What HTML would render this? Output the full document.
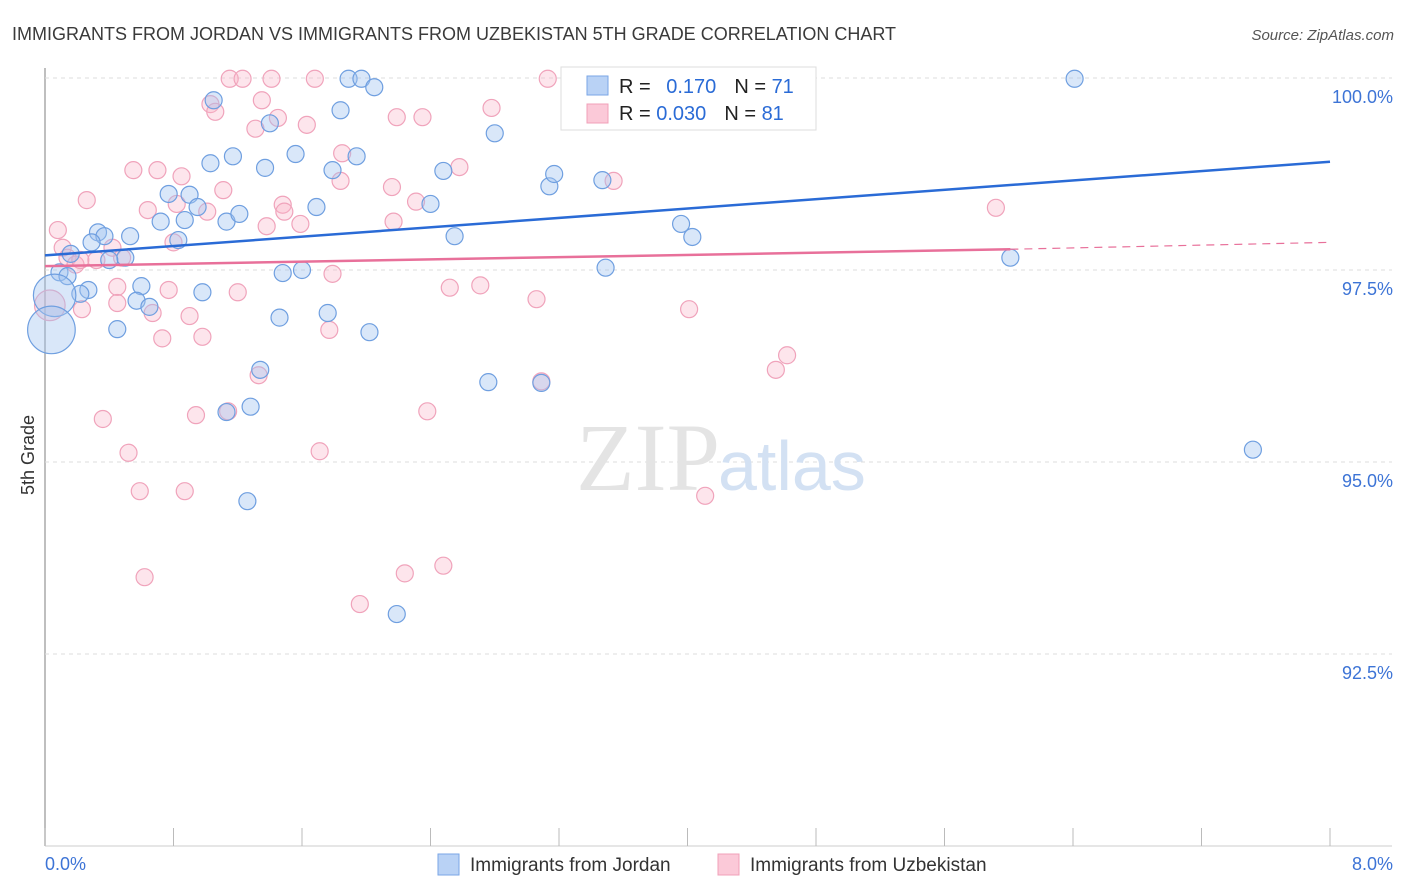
<!DOCTYPE html>
<html><head><meta charset="utf-8">
<style>
body{margin:0;background:#fff;font-family:"Liberation Sans",sans-serif;}
svg{display:block}
</style></head>
<body>
<svg id="chart" width="1406" height="892">
<text x="12" y="40" font-size="18" fill="#3a3a3a">IMMIGRANTS FROM JORDAN VS IMMIGRANTS FROM UZBEKISTAN 5TH GRADE CORRELATION CHART</text>
<text x="1394" y="40" font-size="15" fill="#555" font-style="italic" text-anchor="end">Source: ZipAtlas.com</text>
<text x="34" y="455" font-size="18" fill="#333" transform="rotate(-90 34 455)" text-anchor="middle">5th Grade</text>
<g id="grid"></g>
<text x="720" y="490" font-size="96" fill="#e4e4e4" text-anchor="end" font-family="Liberation Serif, serif">ZIP</text>
<text x="718" y="490" font-size="70" fill="#d3e1f3">atlas</text>
<g id="points"></g>
<g id="lines"></g>
<g>
<rect x="561" y="67" width="255" height="63" fill="#fff" stroke="#ddd"/>
<rect x="587" y="76" width="21" height="19" fill="#b9d2f5" stroke="#7aa6e6"/>
<rect x="587" y="104" width="21" height="19" fill="#fbc9d8" stroke="#f0a0b8"/>
<text x="619" y="93" font-size="20" fill="#222">R = <tspan fill="#2a6bd6" dx="10">0.170</tspan><tspan fill="#222" dx="18">N = </tspan><tspan fill="#2a6bd6">71</tspan></text>
<text x="619" y="120" font-size="20" fill="#222">R = <tspan fill="#2a6bd6">0.030</tspan><tspan fill="#222" dx="18">N = </tspan><tspan fill="#2a6bd6">81</tspan></text>
</g>
<g>
<rect x="438" y="854" width="21" height="21" fill="#b9d2f5" stroke="#7aa6e6"/>
<text x="470" y="871" font-size="19" fill="#333">Immigrants from Jordan</text>
<rect x="718" y="854" width="21" height="21" fill="#fbc9d8" stroke="#f0a0b8"/>
<text x="750" y="871" font-size="19" fill="#333">Immigrants from Uzbekistan</text>
</g>
</svg>
<script>
const yTicks=[100,97.5,95,92.5];
const yTickLabels=["100.0%","97.5%","95.0%","92.5%"];
const xTickLabels=["0.0%","8.0%"];
const jordanX=[0.16,0.09,0.14,0.27,0.22,0.06,0.04,0.45,0.33,0.37,0.29,0.53,0.50,0.40,0.60,0.57,0.65,0.72,0.77,0.87,0.90,0.83,0.95,1.03,1.05,1.13,1.17,1.21,0.98,1.37,1.40,1.48,1.46,1.56,1.60,1.69,1.79,1.84,1.89,1.97,2.05,1.94,1.76,2.02,1.34,1.28,1.13,1.26,2.19,2.40,2.48,2.55,2.80,2.76,3.09,3.14,3.17,3.47,3.49,3.72,3.96,4.03,4.32,6.01,6.41,7.52,3.39];
const jordanY=[97.71,97.47,97.42,97.24,97.19,97.17,96.72,96.73,97.99,97.94,97.86,97.94,97.66,97.63,97.29,97.10,97.02,98.13,98.49,98.15,98.48,97.89,98.32,98.89,99.71,98.13,98.98,98.23,97.21,98.83,99.41,97.46,96.88,99.01,97.50,98.32,98.80,99.58,99.99,99.99,99.88,98.98,96.94,96.69,96.20,95.72,95.65,94.49,93.02,98.36,98.79,97.94,99.28,96.04,96.03,98.59,98.75,98.67,97.53,99.99,98.10,97.93,99.99,97.66,99.99,95.16,99.99];
const jordanSize=[1,1,1,1,1,2.5,2.8,1,1,1,1,1,1,1,1,1,1,1,1,1,1,1,1,1,1,1,1,1,1,1,1,1,1,1,1,1,1,1,1,1,1,1,1,1,1,1,1,1,1,1,1,1,1,1,1,1,1,1,1,1,1,1,1,1,1,1,1];
const uzbX=[0.08,0.11,0.14,0.19,0.22,0.03,0.23,0.26,0.32,0.42,0.48,0.45,0.45,0.36,0.52,0.59,0.62,0.55,0.64,0.70,0.67,0.73,0.77,0.80,0.82,0.85,0.87,0.90,0.94,0.98,1.01,1.03,1.06,1.11,1.15,1.23,1.14,1.20,1.31,1.35,1.38,1.33,1.41,1.45,1.48,1.49,1.59,1.63,1.68,1.71,1.77,1.79,1.84,1.85,1.96,2.16,2.17,2.19,2.24,2.31,2.35,2.38,2.48,2.52,2.58,2.71,2.78,3.06,3.09,3.13,3.54,4.01,4.11,4.55,4.62,5.92,3.29];
const uzbY=[98.02,97.79,97.66,97.57,97.63,97.04,96.99,98.41,97.63,97.79,97.66,97.28,97.07,95.56,95.12,94.62,93.50,98.80,98.28,98.80,96.94,96.61,97.24,97.86,98.36,98.72,94.62,96.90,95.61,96.63,98.26,99.66,99.56,98.54,99.99,99.99,95.66,97.21,99.34,99.71,98.07,96.13,99.99,99.48,98.35,98.26,98.10,99.39,99.99,95.14,96.72,97.45,98.66,99.02,93.15,98.58,98.13,99.49,93.55,98.39,99.49,95.66,93.65,97.27,98.84,97.30,99.61,97.12,96.05,99.99,98.66,96.99,94.56,96.20,96.39,98.31,99.99];
const uzbSize=[1,1,1,1,1,1.8,1,1,1,1,1,1,1,1,1,1,1,1,1,1,1,1,1,1,1,1,1,1,1,1,1,1,1,1,1,1,1,1,1,1,1,1,1,1,1,1,1,1,1,1,1,1,1,1,1,1,1,1,1,1,1,1,1,1,1,1,1,1,1,1,1,1,1,1,1,1,1];
const jordanTrend=[97.69,98.91];
const uzbTrend=[97.55,97.77,97.86];
const uzbTrendX=[0,6.01,8];

const NS="http://www.w3.org/2000/svg";
const X0=45,X1=1330,Y100=78,PX_PER_PCT=76.8;
const sx=v=>X0+(v/8)*(X1-X0);
const sy=v=>Y100+(100-v)*PX_PER_PCT;
function mk(tag,attrs,parent){const e=document.createElementNS(NS,tag);for(const k in attrs)e.setAttribute(k,attrs[k]);parent.appendChild(e);return e;}
const grid=document.getElementById('grid');
// axes
let ax=mk('line',{x1:X0,y1:68,x2:X0,y2:846,stroke:'#aaa','stroke-width':1.5},grid);


let bx=mk('line',{x1:X0,y1:846,x2:1392,y2:846,stroke:'#ccc','stroke-width':1},grid);


yTicks.forEach((t,i)=>{
  const g=mk('line',{x1:X0,y1:sy(t),x2:1392,y2:sy(t),stroke:'#ddd','stroke-dasharray':'4,4'},grid);
  
  
  const tx=mk('text',{x:1393,y:sy(t)+25,'font-size':18,fill:'#3d74d6','text-anchor':'end'},grid);
  tx.textContent=yTickLabels[i];
  
  
});
for(let i=0;i<=10;i++){
  const x=X0+i*(X1-X0)/10;
  const t=mk('line',{x1:x,y1:828,x2:x,y2:846,stroke:'#bbb'},grid);
  
  
}
[[0,'start',45],[8,'end',1393]].forEach((d,i)=>{
  const tx=mk('text',{x:d[2],y:870,'font-size':18,fill:'#3d74d6','text-anchor':d[1]},grid);
  tx.textContent=xTickLabels[i];
  
  
});
const pts=document.getElementById('points');
function drawSeries(xs,ys,sz,fill,stroke,name){
  xs.forEach((v,i)=>{
    const c=mk('circle',{cx:sx(v),cy:sy(ys[i]),r:8.5*sz[i],fill:fill,stroke:stroke,'stroke-width':1.2},pts);
    
    
  });
}
drawSeries(uzbX,uzbY,uzbSize,'rgba(248,180,200,0.35)','#f0a3bb','point-uzbekistan');
drawSeries(jordanX,jordanY,jordanSize,'rgba(160,196,240,0.4)','#6f9fe0','point-jordan');
const lines=document.getElementById('lines');
let bl=mk('line',{x1:sx(0),y1:sy(jordanTrend[0]),x2:sx(8),y2:sy(jordanTrend[1]),stroke:'#2a6bd6','stroke-width':2.5},lines);


let pl=mk('line',{x1:sx(uzbTrendX[0]),y1:sy(uzbTrend[0]),x2:sx(uzbTrendX[1]),y2:sy(uzbTrend[1]),stroke:'#e8709a','stroke-width':2.5},lines);


let pd=mk('line',{x1:sx(uzbTrendX[1]),y1:sy(uzbTrend[1]),x2:sx(uzbTrendX[2]),y2:sy(uzbTrend[2]),stroke:'#e8709a','stroke-width':1.2,'stroke-dasharray':'8,6'},lines);


</script>
</body></html>
